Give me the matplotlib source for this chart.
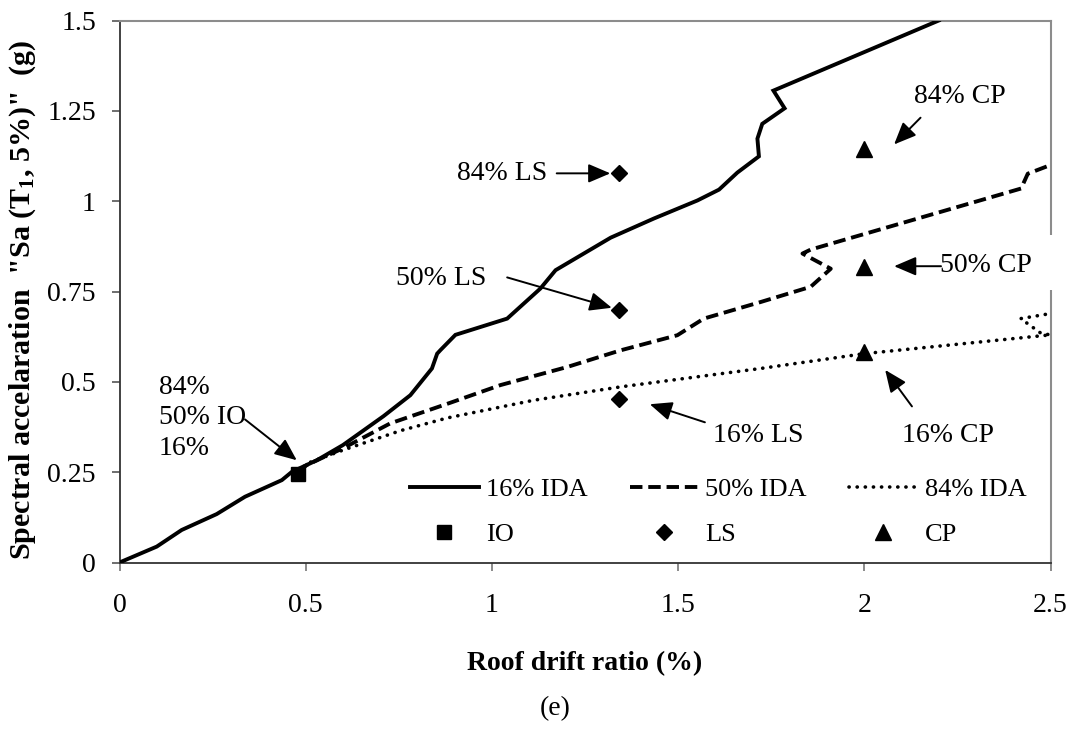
import matplotlib
matplotlib.use("Agg")
import matplotlib.pyplot as plt
from matplotlib.patches import Rectangle

# ---- data -------------------------------------------------------------
# 16% fractile IDA curve (roof drift %, Sa in g)
drift_16 = [0.0, 0.10, 0.167, 0.261, 0.337, 0.436, 0.463, 0.48, 0.53, 0.60,
            0.709, 0.781, 0.839, 0.853, 0.862, 0.902, 1.041, 1.130, 1.171,
            1.319, 1.435, 1.552, 1.610, 1.659, 1.717, 1.713, 1.726, 1.786,
            1.756, 2.20]
sa_16 = [0.0, 0.044, 0.090, 0.134, 0.182, 0.228, 0.251, 0.259, 0.283, 0.325,
         0.405, 0.463, 0.537, 0.578, 0.588, 0.630, 0.675, 0.758, 0.809,
         0.899, 0.952, 1.002, 1.032, 1.079, 1.124, 1.173, 1.214, 1.257,
         1.306, 1.50]

# 50% fractile IDA curve
drift_50 = [0.48, 0.503, 0.60, 0.727, 0.888, 1.023, 1.202, 1.345, 1.498,
            1.569, 1.722, 1.856, 1.91, 1.834, 1.856, 2.421, 2.439, 2.50]
sa_50 = [0.25, 0.270, 0.316, 0.385, 0.442, 0.491, 0.541, 0.587, 0.629,
         0.675, 0.721, 0.763, 0.813, 0.855, 0.866, 1.035, 1.076, 1.10]

# 84% fractile IDA curve
drift_84 = [0.48, 0.503, 0.60, 0.755, 0.88, 1.112, 1.345, 1.722, 2.0,
            2.50, 2.475, 2.42, 2.50]
sa_84 = [0.25, 0.274, 0.311, 0.365, 0.400, 0.449, 0.486, 0.537, 0.578,
         0.630, 0.634, 0.675, 0.689]

# performance levels: immediate occupancy, life safety, collapse prevention
io_drift = [0.48]
io_sa = [0.245]
ls_drift = [1.34, 1.34, 1.34]          # 84%, 50%, 16%
ls_sa = [1.077, 0.700, 0.452]
cp_drift = [2.0, 2.0, 2.0]             # 84%, 50%, 16%
cp_sa = [1.145, 0.817, 0.582]

x_ticks = [0, 0.5, 1, 1.5, 2, 2.5]
x_tick_labels = ["0", "0.5", "1", "1.5", "2", "2.5"]
y_ticks = [0, 0.25, 0.5, 0.75, 1, 1.25, 1.5]
y_tick_labels = ["0", "0.25", "0.5", "0.75", "1", "1.25", "1.5"]

# ---- style ------------------------------------------------------------
FS = 20
plt.rcParams["font.family"] = ["Liberation Serif", "DejaVu Serif"]
plt.rcParams["mathtext.fontset"] = "custom"
plt.rcParams["mathtext.rm"] = "Liberation Serif"
plt.rcParams["mathtext.bf"] = "Liberation Serif:bold"
plt.rcParams["mathtext.default"] = "bf"

fig = plt.figure(figsize=(10.75, 7.33), dpi=100)
ax = fig.add_axes([119.5 / 1075, 1 - 562.5 / 733,
                   (1050.5 - 119.5) / 1075, (562.5 - 20.5) / 733])

lw = 2.8
l16, = ax.plot(drift_16, sa_16, color="black", lw=lw, solid_joinstyle="miter",
               zorder=4, label="16% IDA")
l50, = ax.plot(drift_50, sa_50, color="black", lw=lw, zorder=4,
               dashes=(3.2, 1.5), label="50% IDA")
l84, = ax.plot(drift_84, sa_84, color="black", lw=2.6, zorder=4,
               dashes=(0.05, 2.2), dash_capstyle="round", label="84% IDA")

io, = ax.plot(io_drift, io_sa, ls="none", marker="s", ms=10.5, color="black",
              zorder=5, label="IO")
ls_, = ax.plot(ls_drift, ls_sa, ls="none", marker="D", ms=8, color="black",
               zorder=5, label="LS")
cp, = ax.plot(cp_drift, cp_sa, ls="none", marker="^", ms=11, color="black",
              zorder=5, label="CP")

ax.set_xlim(0, 2.5)
ax.set_ylim(0, 1.5)
ax.set_xticks(x_ticks)
ax.set_xticklabels(x_tick_labels)
ax.set_yticks(y_ticks)
ax.set_yticklabels(y_tick_labels)
ax.tick_params(axis="x", direction="out", length=6, width=1.2, color="#777777",
               labelsize=FS, pad=16)
ax.tick_params(axis="y", direction="out", length=6, width=1.2, color="#555555",
               labelsize=FS, pad=11)

for side in ("left", "bottom"):
    ax.spines[side].set_color("#333333")
    ax.spines[side].set_linewidth(1.3)
for side in ("top", "right"):
    ax.spines[side].set_color("#8c8c8c")
    ax.spines[side].set_linewidth(1.5)

ax.set_xlabel("Roof drift ratio (%)", fontsize=FS, fontweight="bold",
              labelpad=24)
ax.set_ylabel('Spectral accelaration  "Sa (T$_{1}$, 5%)"  (g)', fontsize=21.6,
              fontweight="bold")
ax.yaxis.set_label_coords(-0.088, 0.485)
fig.text(555 / 1075, 1 - 709 / 733, "(e)", fontsize=FS, ha="center",
         va="center")

# ---- annotations ------------------------------------------------------
arrow = dict(arrowstyle="-|>,head_length=0.75,head_width=0.32", color="black",
             lw=1.4, shrinkA=0, shrinkB=0, mutation_scale=18)


def callout(text, xytext, xy, tpos, ha):
    ax.annotate("", xy=xy, xytext=xytext, arrowprops=arrow, zorder=6)
    ax.text(tpos[0], tpos[1], text, fontsize=FS, ha=ha, va="center",
            linespacing=1.3, zorder=6)


callout("84%\n50% IO\n16%", (0.337, 0.396), (0.476, 0.283), (0.105, 0.40), "left")
callout("84% LS", (1.174, 1.077), (1.318, 1.077), (1.148, 1.077), "right")
callout("50% LS", (1.041, 0.789), (1.322, 0.705), (0.985, 0.787), "right")
callout("16% LS", (1.572, 0.388), (1.424, 0.438), (1.595, 0.352), "left")
callout("16% CP", (2.128, 0.432), (2.056, 0.533), (2.225, 0.352), "center")
callout("84% CP", (2.151, 1.231), (2.08, 1.157), (2.257, 1.29), "center")
callout("50% CP", (2.206, 0.820), (2.08, 0.820), (2.204, 0.823), "left")

# white label box of the "50% CP" note, lying over the right frame edge
ax.add_patch(Rectangle((2.2, 0.755), 0.33, 0.15, facecolor="white",
                       edgecolor="none", clip_on=False, zorder=3))

# ---- legend -----------------------------------------------------------
leg = ax.legend(handles=[l16, io, l50, ls_, l84, cp], ncol=3, frameon=False,
                loc="upper left", bbox_to_anchor=(0.312, 0.157),
                fontsize=19, handlelength=2.6, handletextpad=0.27,
                columnspacing=1.6, labelspacing=0.83, borderpad=0,
                borderaxespad=0, numpoints=1)

fig.savefig("out.png", dpi=100)
